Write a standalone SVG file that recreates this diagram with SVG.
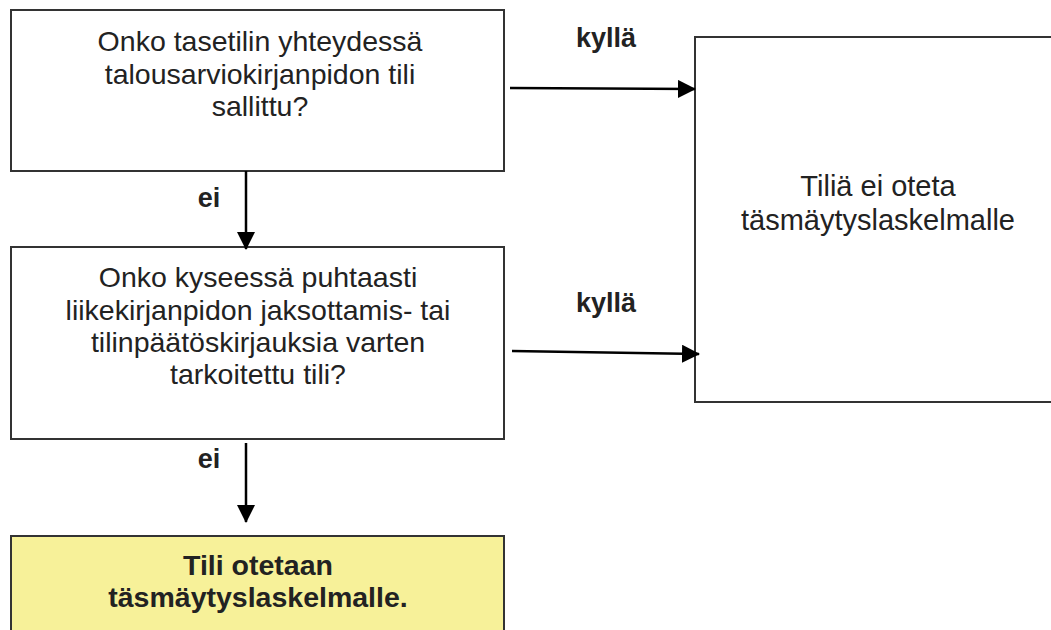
<svg xmlns="http://www.w3.org/2000/svg" width="1051" height="630" viewBox="0 0 1051 630">
<style>
.box{fill:#fff;stroke:#333;stroke-width:2}
.yel{fill:#f7f199;stroke:#333;stroke-width:2}
.t{font-family:"Liberation Sans",Arial,sans-serif;font-size:28.5px;fill:#222;text-anchor:middle}
.tb{font-family:"Liberation Sans",Arial,sans-serif;font-size:27px;font-weight:bold;fill:#222;text-anchor:middle}
.c{stroke:#000;stroke-width:2.5;fill:none;marker-end:url(#ah)}
</style>
<defs>
<marker id="ah" markerUnits="userSpaceOnUse" markerWidth="18" markerHeight="18" viewBox="0 0 18 18" refX="17" refY="9" orient="auto">
<path d="M0,0 L18,9 L0,18 Z" fill="#000"/>
</marker>
</defs>
<rect width="1051" height="630" fill="#fff"/>
<g id="q1">
<rect class="box" x="11" y="10" width="493" height="161"/>
<text class="t" x="260" y="51">Onko tasetilin yhteydessä</text>
<text class="t" x="260" y="84">talousarviokirjanpidon tili</text>
<text class="t" x="260" y="116">sallittu?</text>
</g>
<g id="q2">
<rect class="box" x="11" y="247" width="493" height="192"/>
<text class="t" x="258" y="287">Onko kyseessä puhtaasti</text>
<text class="t" x="258" y="320">liikekirjanpidon jaksottamis- tai</text>
<text class="t" x="258" y="352">tilinpäätöskirjauksia varten</text>
<text class="t" x="258" y="384">tarkoitettu tili?</text>
</g>
<g id="no">
<rect class="box" x="695" y="37" width="370" height="365"/>
<text class="t" x="878" y="196" style="font-size:29px">Tiliä ei oteta</text>
<text class="t" x="878" y="230" style="font-size:29px">täsmäytyslaskelmalle</text>
</g>
<g id="yes">
<rect class="yel" x="11" y="536" width="493" height="110"/>
<text class="tb" x="258" y="575" style="font-size:28.5px">Tili otetaan</text>
<text class="tb" x="258" y="607" style="font-size:28.5px">täsmäytyslaskelmalle.</text>
</g>
<g id="connectors">
<line class="c" x1="510" y1="88" x2="695" y2="89"/>
<line class="c" x1="512" y1="351" x2="699" y2="354"/>
<line class="c" x1="246" y1="171" x2="246" y2="249"/>
<line class="c" x1="246" y1="443" x2="246" y2="522"/>
<text class="tb" x="606" y="47">kyllä</text>
<text class="tb" x="606" y="312">kyllä</text>
<text class="tb" x="209" y="207">ei</text>
<text class="tb" x="209" y="468">ei</text>
</g>
</svg>
